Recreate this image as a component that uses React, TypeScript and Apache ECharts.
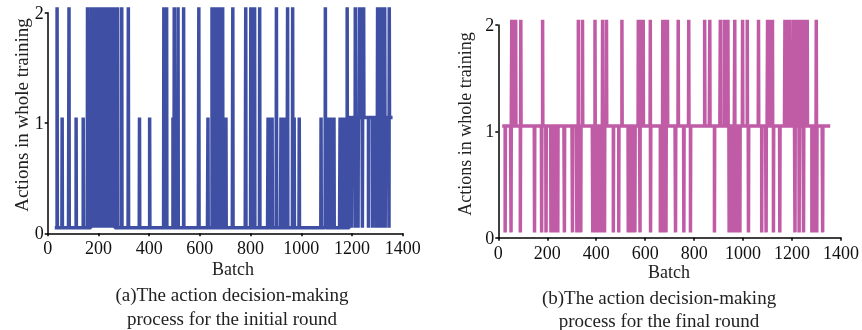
import React, { useEffect, useRef } from "react";
import * as echarts from "echarts";

// ---- Data (batch indices) ----
// (a) initial round
const leftStartBatch = 28;
const leftEndBatch = 1362;
const leftBaseFrom = [28, 1190];
const leftBaseValue = [0, 1];
const leftSpikeTo1 = [57, 112, 140, 362, 402, 494, 632, 703, 869, 873, 877, 881, 885, 920, 927, 934, 972, 992, 1078,
  1097, 1101, 1105, 1109, 1113, 1117, 1121, 1125, 1129,
  1153, 1157, 1161, 1165, 1169, 1173, 1177, 1185, 1189];
const leftSpikeTo0 = [1197, 1212, 1224, 1241, 1265, 1281, 1295, 1299, 1303, 1307, 1311, 1315, 1319, 1323, 1327, 1331, 1346];
const leftSpikeTo2 = [37, 84, 157,
  171, 174, 177, 180, 183, 186, 189, 192, 195, 198, 201, 204, 207, 210, 213, 216, 219, 222, 225, 228, 231, 234, 237,
  240, 243, 246, 249, 252, 255, 258, 261, 264,
  276, 292, 318, 458, 469, 499, 514, 536, 596, 648, 656, 662, 674, 679, 684, 690, 730, 781, 801, 808, 816, 836, 902,
  946, 966, 1095, 1181, 1213, 1229, 1236, 1246, 1301, 1305, 1309, 1313, 1317, 1321, 1325, 1329, 1347];

// (b) final round
const rightStartBatch = 16;
const rightEndBatch = 1356;
const rightBaseFrom = [16];
const rightBaseValue = [1];
const rightSpikeTo1: number[] = [];
const rightSpikeTo0 = [28, 52, 90, 148, 177, 195, 215, 219, 223, 227, 231, 235, 239, 243, 270, 303, 321, 326, 331, 337,
  386, 391, 399, 411, 418, 429, 434, 470, 492, 531, 535, 539, 543, 547, 551, 555, 558, 579, 622,
  662, 666, 670, 674, 678, 682, 685, 724, 758, 785, 883,
  943, 947, 951, 955, 959, 963, 967, 971, 975, 979, 983, 987, 1022, 1076, 1094, 1124, 1150, 1212, 1229, 1247,
  1281, 1285, 1289, 1293, 1297, 1301, 1325];
const rightSpikeTo2 = [55, 59, 63, 67, 71, 92, 181, 327, 344, 395, 426, 442, 505, 572, 576, 580, 584, 588, 592, 621,
  672, 677, 681, 691, 735, 778, 843, 864, 907, 923, 928, 933, 938, 966, 998, 1017, 1063,
  1100, 1104, 1108, 1112, 1116, 1120, 1171, 1175, 1179, 1183, 1187, 1191, 1206, 1220, 1228, 1236, 1244, 1252, 1262, 1299];

const xTicks = { min: 0, max: 1400, interval: 200 };
const yTicks = { min: 0, max: 2, interval: 1 };

const drawOffset = 0.05; // plotted lines sit slightly above the integer levels

function buildSeries(
  start: number, end: number, baseFrom: number[], baseValue: number[],
  to1: number[], to0: number[], to2: number[]
): [number, number][] {
  const vals: number[] = [];
  for (let b = start; b <= end; b++) {
    let v = baseValue[0];
    for (let k = 0; k < baseFrom.length; k++) if (b >= baseFrom[k]) v = baseValue[k];
    vals.push(v);
  }
  const set = (list: number[], v: number) => list.forEach((b) => { if (b >= start && b <= end) vals[b - start] = v; });
  set(to1, 1);
  set(to0, 0);
  set(to2, 2);
  return vals.map((v, i) => [start + i, v + drawOffset]);
}

const FONT = "'Liberation Serif', 'Times New Roman', serif";

export default function App() {
  const ref = useRef<HTMLDivElement>(null);
  useEffect(() => {
    if (!ref.current) return;
    const chart = echarts.init(ref.current, undefined, { renderer: "svg" });
    const leftData = buildSeries(leftStartBatch, leftEndBatch, leftBaseFrom, leftBaseValue, leftSpikeTo1, leftSpikeTo0, leftSpikeTo2);
    const rightData = buildSeries(rightStartBatch, rightEndBatch, rightBaseFrom, rightBaseValue, rightSpikeTo1, rightSpikeTo0, rightSpikeTo2);

    const mkX = (gi: number) => ({
      type: "value" as const, gridIndex: gi, ...xTicks,
      axisLine: { show: true, lineStyle: { color: "#000", width: 1.5 } },
      axisTick: { show: true, length: 3, lineStyle: { color: "#000", width: 1.5 } },
      splitLine: { show: false },
      axisLabel: { color: "#111", fontFamily: FONT, fontSize: 18, margin: 6, formatter: (v: number) => String(v) },
    });
    const mkY = (gi: number) => ({
      type: "value" as const, gridIndex: gi, ...yTicks,
      axisLine: { show: true, lineStyle: { color: "#000", width: 1.5 } },
      axisTick: { show: true, length: 3, lineStyle: { color: "#000", width: 1.5 } },
      splitLine: { show: false },
      axisLabel: { color: "#111", fontFamily: FONT, fontSize: 18, margin: 4, formatter: (v: number) => String(v) },
    });
    const txt = (x: number, y: number, text: string, size: number, rot = 0) => ({
      type: "text" as const, x, y, rotation: rot,
      style: { text, fontFamily: FONT, fontSize: size, fill: "#222", align: "center", verticalAlign: "middle" },
    });

    chart.setOption({
      animation: false,
      grid: [
        { left: 47.7, top: 12.7, width: 355, height: 220.6 },
        { left: 498.3, top: 25, width: 342.7, height: 212.7 },
      ],
      xAxis: [mkX(0), mkX(1)],
      yAxis: [mkY(0), mkY(1)],
      series: [
        {
          type: "line", xAxisIndex: 0, yAxisIndex: 0, data: leftData, step: "end",
          showSymbol: false, clip: false, lineStyle: { color: "#3F50A4", width: 3.5 }, silent: true,
        },
        {
          type: "line", xAxisIndex: 1, yAxisIndex: 1, data: rightData, step: "end",
          showSymbol: false, clip: false, lineStyle: { color: "#C05BA6", width: 3.5 }, silent: true,
        },
      ],
      graphic: [
        txt(21, 115, "Actions in whole training", 19, Math.PI / 2),
        txt(233, 268.5, "Batch", 18),
        txt(232, 294, "(a)The action decision-making", 19),
        txt(232, 318, "process for the initial round", 19),
        txt(465, 124, "Actions in whole training", 18, Math.PI / 2),
        txt(669, 272, "Batch", 18),
        txt(659, 297, "(b)The action decision-making", 19),
        txt(659, 320, "process for the final round", 19),
      ],
    });
    return () => chart.dispose();
  }, []);
  return <div ref={ref} style={{ position: "fixed", left: 0, top: 0, width: 862, height: 330 }} />;
}
